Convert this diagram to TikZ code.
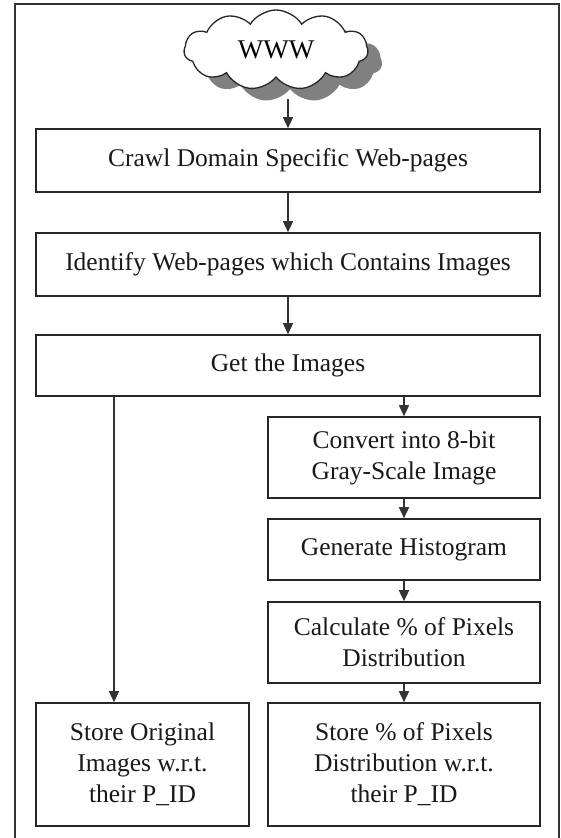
\documentclass[tikz,border=0pt]{standalone}
\usepackage{fontspec}
\setmainfont{Liberation Serif}
\usetikzlibrary{arrows.meta,shapes.symbols,shadows}
\begin{document}
\begin{tikzpicture}[x=1pt,y=-1pt,
  box/.style={draw=black!85, line width=1.6pt, fill=white, align=center, inner sep=2pt,
    font=\fontsize{25.5}{31}\selectfont, text=black!90},
  arr/.style={draw=black!80, line width=1.4pt, -{Triangle[length=11pt,width=10pt]}},
  frame/.style={draw=black!80, line width=2.4pt}]
\useasboundingbox (0,0) rectangle (561,838);
\fill[white] (0,0) rectangle (561,838);
% outer frame (open at bottom)
\coordinate (fbl) at (15,840);
\coordinate (ftl) at (15,4);
\coordinate (ftr) at (559,4);
\coordinate (fbr) at (559,840);
\draw[frame] (fbl) -- (ftl) -- (ftr) -- (fbr);
% cloud
\node[cloud, cloud puffs=11, cloud puff arc=115, aspect=2.4, draw=black!85, line width=1.3pt, fill=white,
  minimum width=184pt, minimum height=80pt, inner sep=0pt,
  drop shadow={shadow xshift=14pt, shadow yshift=-12pt, fill=black!50, opacity=1},
  font=\fontsize{27}{30}\selectfont] (www) at (276,50) {WWW};
% boxes
\node[box, minimum width=504pt, minimum height=63pt] (b1) at (288,160.5) {Crawl Domain Specific Web-pages};
\node[box, minimum width=504pt, minimum height=63pt] (b2) at (288,264.5) {Identify Web-pages which Contains Images};
\node[box, minimum width=504pt, minimum height=61pt] (b3) at (288,365.5) {Get the Images};
\node[box, minimum width=272pt, minimum height=81pt] (conv) at (404,457.5) {Convert into 8-bit\\Gray-Scale Image};
\node[box, minimum width=272pt, minimum height=61pt] (hist) at (404,549.5) {Generate Histogram};
\node[box, minimum width=272pt, minimum height=81pt] (calc) at (404,642.5) {Calculate \% of Pixels\\Distribution};
\node[box, minimum width=213pt, minimum height=123pt] (sl) at (142.5,764.5) {Store Original\\Images w.r.t.\\their P\_ID};
\node[box, minimum width=272pt, minimum height=123pt] (sr) at (404,764.5) {Store \% of Pixels\\Distribution w.r.t.\\their P\_ID};
% connectors
\coordinate (cs) at (288,99);
\coordinate (lx) at (114,0);
\draw[arr] (cs) -- (b1.north);
\draw[arr] (b1.south) -- (b2.north);
\draw[arr] (b2.south) -- (b3.north);
\draw[arr] (b3.south -| conv.north) -- (conv.north);
\draw[arr] (conv.south) -- (hist.north);
\draw[arr] (hist.south) -- (calc.north);
\draw[arr] (calc.south) -- (sr.north);
\draw[arr] (b3.south -| lx) -- (sl.north -| lx);
\end{tikzpicture}
\end{document}
